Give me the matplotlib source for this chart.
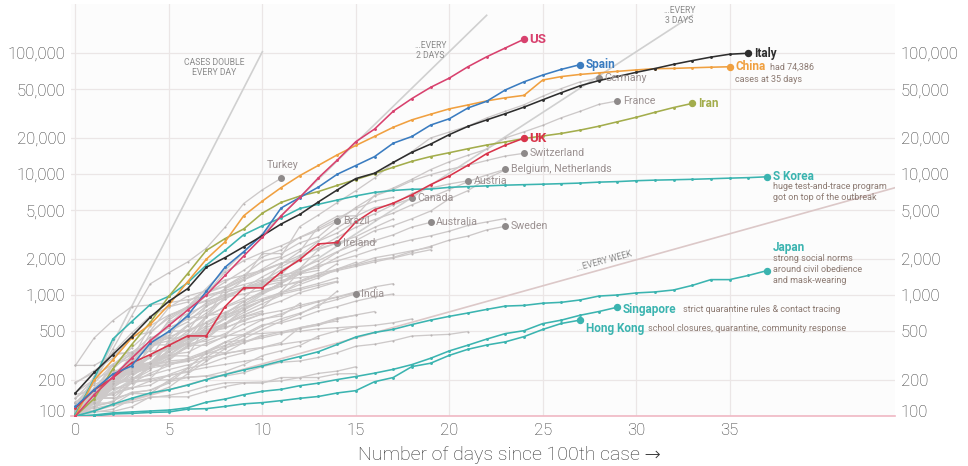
import matplotlib
matplotlib.use("Agg")
import matplotlib.pyplot as plt
from matplotlib.ticker import FixedLocator, FuncFormatter
from matplotlib.transforms import ScaledTranslation

# ---------------- data (cases, index = days since 100th case) ----------------
us = [100, 150, 210, 300, 420, 560, 750, 1000, 1450, 2100, 3000, 4500, 6400, 9300, 13000,
      18500, 23500, 33000, 42000, 52000, 62000, 77000, 93000, 110000, 130000]
spain = [120, 165, 222, 259, 400, 500, 673, 1073, 1695, 2277, 3146, 5232, 6391, 7798, 9942,
         11748, 13910, 17963, 20410, 25374, 28603, 35136, 39885, 49515, 57786, 65719, 73235, 80110]
italy = [155, 229, 322, 453, 655, 888, 1128, 1694, 2036, 2502, 3089, 3858, 4636, 5883, 7375,
         9172, 10149, 12462, 15113, 17660, 21157, 24747, 27980, 31506, 35713, 41035, 47021,
         53578, 59138, 63927, 69176, 74386, 80589, 86498, 92472, 97689, 99500]
china = [100, 198, 291, 440, 571, 830, 1287, 1975, 2744, 4515, 5974, 7711, 9692, 11791, 14380,
         17205, 20438, 24324, 28018, 31161, 34546, 37198, 40171, 42638, 44653, 59804, 63851,
         66492, 68500, 70548, 72436, 74185, 74576, 75465, 76288, 76936]
iran = [100, 139, 245, 388, 593, 978, 1501, 2336, 2922, 3513, 4747, 5823, 6566, 7161, 8042,
        9000, 10075, 11364, 12729, 13938, 14991, 16169, 17361, 18407, 19644, 20610, 21638,
        23049, 24811, 27017, 29406, 32332, 35408, 38309]
uk = [116, 164, 207, 274, 322, 384, 459, 459, 802, 1144, 1145, 1551, 1960, 2642, 2716, 4014,
      5067, 5745, 6726, 8164, 9640, 11812, 14745, 17312, 19780]
s_korea = [104, 204, 433, 602, 833, 977, 1261, 1766, 2337, 3150, 3736, 4335, 5186, 5621, 6088,
           6593, 7041, 7314, 7478, 7513, 7755, 7869, 7979, 8086, 8162, 8236, 8320, 8413, 8565,
           8652, 8799, 8897, 8961, 9037, 9137, 9241, 9332, 9478]
japan = [100, 110, 125, 140, 155, 165, 180, 200, 220, 240, 260, 285, 310, 340, 390, 450, 490,
         520, 570, 620, 666, 710, 760, 810, 820, 855, 870, 910, 980, 1000, 1040, 1060, 1100,
         1200, 1340, 1340, 1450, 1590]
singapore = [100, 102, 106, 108, 110, 112, 117, 130, 138, 150, 160, 166, 178, 187, 200, 212,
             226, 243, 266, 300, 345, 385, 432, 480, 507, 580, 620, 680, 730, 793]
hong_kong = [100, 100, 104, 105, 107, 108, 114, 115, 120, 126, 129, 134, 140, 145, 155, 162,
             192, 208, 256, 273, 317, 356, 386, 410, 453, 519, 582, 620]

germany = [130, 159, 196, 262, 482, 670, 799, 1040, 1176, 1457, 1908, 2078, 3675, 4585, 5795,
           7272, 9257, 12327, 15320, 19848, 22213, 24873, 29056, 32986, 37323, 43938, 50871,
           57695, 62095]
france = [100, 120, 130, 191, 204, 288, 380, 656, 957, 1134, 1217, 1792, 2289, 3672, 4480,
          4513, 6650, 7652, 9043, 10871, 12612, 14282, 16018, 19856, 22304, 25233, 29155,
          32964, 37575, 40174]
switzerland = [114, 214, 268, 337, 374, 491, 652, 652, 1139, 1359, 2200, 2200, 2700, 3028,
               4075, 5294, 6575, 7474, 8795, 9877, 10897, 11811, 12928, 14076, 14829]
belgium = [109, 169, 200, 239, 267, 314, 314, 559, 689, 886, 1058, 1243, 1486, 1795, 2257,
           2815, 3401, 3743, 4269, 4937, 6235, 7284, 9134, 10836]
netherlands = [128, 188, 265, 321, 382, 503, 503, 804, 959, 1135, 1413, 1705, 2051, 2460,
               2994, 3631, 4204, 4749, 5560, 6412, 7431, 8647, 9819, 10930]
austria = [104, 131, 182, 246, 302, 504, 655, 860, 1018, 1332, 1646, 2013, 2388, 2814, 3582,
           4474, 5283, 5588, 6909, 7657, 8271, 8788]
canada = [108, 117, 193, 198, 252, 415, 478, 657, 800, 943, 1277, 1469, 2088, 2790, 3251,
          4042, 4682, 5576, 6280]
australia = [107, 128, 128, 200, 250, 297, 377, 452, 568, 681, 791, 1071, 1549, 1682, 2044,
             2364, 2810, 3143, 3640, 3984]
sweden = [101, 161, 203, 248, 355, 500, 599, 814, 961, 1022, 1103, 1190, 1279, 1439, 1639,
          1763, 1934, 2046, 2286, 2526, 2840, 3069, 3447, 3700]
turkey = [100, 191, 359, 670, 1236, 1529, 1872, 2433, 3629, 5698, 7402, 9217]
india = [102, 107, 114, 137, 151, 173, 223, 283, 360, 434, 519, 606, 694, 834, 918, 1024]
brazil = [151, 162, 200, 321, 372, 621, 793, 1021, 1546, 1924, 2247, 2554, 2985, 3417, 4100]
ireland = [129, 169, 223, 292, 557, 683, 785, 906, 1125, 1329, 1564, 1819, 2121, 2415, 2700]
norway = [108, 147, 176, 205, 400, 598, 702, 996, 1090, 1221, 1333, 1463, 1550, 1746, 1914,
          2118, 2385, 2621, 2863, 3084, 3369, 3755, 4015, 4284]
denmark = [262, 442, 615, 801, 827, 864, 914, 977, 1057, 1151, 1255, 1326, 1395, 1450, 1591,
           1724, 1877, 2023, 2200, 2366]
portugal = [112, 169, 245, 331, 448, 448, 785, 1020, 1280, 1600, 2060, 2362, 2995, 3544, 4268,
            5170, 5962, 6408]
israel = [100, 143, 193, 251, 255, 337, 433, 677, 705, 883, 1071, 1238, 1656, 2369, 2693,
          3035, 3619, 4247]
czechia = [116, 150, 214, 298, 396, 464, 694, 833, 995, 1120, 1236, 1394, 1654, 1925, 2279,
           2631, 2817]
malaysia = [129, 149, 149, 197, 238, 428, 566, 673, 790, 900, 1030, 1183, 1306, 1518, 1624,
            1796, 2031, 2161, 2320, 2470]
poland = [103, 119, 177, 238, 251, 355, 425, 536, 634, 749, 901, 1051, 1221, 1389, 1638, 1862]
chile = [156, 201, 238, 238, 434, 537, 632, 746, 922, 1142, 1306, 1610, 1909, 2139]
luxembourg = [140, 203, 335, 484, 670, 798, 875, 1099, 1333, 1453, 1605, 1831, 1950]
ecuador = [111, 168, 260, 365, 506, 789, 981, 1082, 1173, 1403, 1595, 1823]
finland = [109, 155, 225, 244, 277, 321, 336, 400, 450, 523, 626, 700, 792, 880, 958, 1041,
           1167, 1240]
greece = [190, 228, 331, 331, 387, 418, 418, 495, 530, 624, 695, 743, 821, 892, 966, 1061, 1156]
iceland = [103, 134, 156, 171, 180, 220, 250, 330, 409, 473, 568, 588, 648, 737, 802, 890,
           963, 1020]
romania = [131, 158, 184, 260, 277, 308, 367, 433, 576, 762, 906, 1029, 1292, 1452, 1815]
pakistan = [187, 237, 301, 454, 495, 645, 803, 887, 991, 1106, 1197, 1402, 1495, 1597]
saudi_arabia = [103, 118, 171, 171, 274, 344, 392, 511, 562, 767, 900, 1012, 1104, 1203, 1299]
thailand = [114, 147, 177, 212, 272, 322, 411, 599, 721, 827, 934, 1045, 1136, 1245, 1388]
indonesia = [117, 134, 172, 227, 311, 369, 450, 514, 579, 686, 790, 893, 1046, 1155, 1285]
philippines = [111, 140, 142, 187, 202, 217, 230, 307, 380, 462, 552, 636, 707, 803, 1075]
qatar = [262, 262, 320, 337, 401, 439, 442, 452, 460, 470, 481, 494, 501, 526, 537, 549, 562,
         590, 634]
slovenia = [141, 181, 219, 253, 275, 275, 286, 341, 383, 414, 442, 480, 528, 562, 632, 684, 730]
estonia = [115, 171, 205, 225, 258, 267, 283, 306, 326, 352, 369, 404, 538, 575, 645, 679]
russia = [114, 147, 199, 253, 306, 367, 438, 495, 658, 840, 1036, 1264, 1534]
south_africa = [116, 150, 202, 240, 274, 402, 554, 709, 927, 1170, 1187, 1280]
mexico = [118, 164, 203, 251, 316, 367, 405, 475, 585, 717, 848, 993]
peru = [117, 145, 234, 234, 318, 363, 395, 416, 480, 580, 635, 671, 852]
panama = [109, 137, 200, 313, 345, 345, 443, 558, 674, 786, 901]
argentina = [128, 158, 266, 301, 387, 387, 502, 589, 690, 745]
egypt = [110, 150, 196, 196, 256, 285, 294, 327, 366, 402, 456, 495, 536, 576, 609]
uae = [113, 140, 140, 153, 153, 198, 248, 333, 333, 405, 468]
iraq = [110, 116, 124, 154, 164, 192, 208, 214, 233, 266, 316, 346, 382, 458, 506, 547]
lebanon = [110, 120, 133, 157, 163, 187, 248, 267, 304, 333, 368, 391, 412, 438]
croatia = [105, 128, 206, 254, 315, 382, 442, 495, 586, 657, 713]
serbia = [103, 135, 171, 222, 249, 303, 384, 384, 457, 659, 741]
colombia = [102, 128, 196, 231, 277, 378, 470, 491, 539, 608, 702]
kuwait = [104, 112, 123, 130, 142, 148, 159, 176, 188, 189, 191, 195, 208, 225, 235, 255]
bahrain = [109, 110, 189, 195, 195, 200, 210, 214, 214, 228, 256, 278, 285, 305, 334, 377,
           392, 419, 458, 466, 473, 499]
san_marino = [101, 109, 109, 119, 144, 144, 144, 160, 175, 187, 187, 208, 208, 208, 223, 224]
armenia = [115, 160, 194, 235, 249, 265, 290, 329, 407, 424]
hungary = [103, 131, 167, 187, 226, 261, 300, 343, 408]
bulgaria = [127, 163, 187, 201, 218, 242, 264, 293, 331, 346]
new_zealand = [102, 155, 205, 283, 368, 451, 514, 589]
morocco = [115, 143, 170, 225, 275, 345, 402, 479, 556]
taiwan = [108, 135, 153, 169, 195, 215, 235, 252, 267, 283, 298]

grey_series = [germany, france, switzerland, belgium, netherlands, austria, canada, australia,
               sweden, turkey, india, brazil, ireland, norway, denmark, portugal, israel,
               czechia, malaysia, poland, chile, luxembourg, ecuador, finland, greece, iceland,
               romania, pakistan, saudi_arabia, thailand, indonesia, philippines, qatar,
               slovenia, estonia, russia, south_africa, mexico, peru, panama, argentina, egypt,
               uae, iraq, lebanon, croatia, serbia, colombia, kuwait, bahrain, san_marino,
               armenia, hungary, bulgaria, new_zealand, morocco, taiwan]

# labelled grey lines: (series, label text)
grey_labels = [(germany, "Germany"), (france, "France"), (switzerland, "Switzerland"),
               (netherlands, "Belgium, Netherlands"), (austria, "Austria"), (canada, "Canada"),
               (australia, "Australia"), (sweden, "Sweden"), (india, "India"),
               (brazil, "Brazil"), (ireland, "Ireland")]

# reference doubling lines: ([start day, end day], [start cases, end cases])
double_day = ([0, 10], [100, 102400])
double_2days = ([0, 22], [100, 204800])
double_3days = ([0, 33], [100, 204800])
double_week = ([0, 43.85], [100, 7700])

y_ticks = [100, 200, 500, 1000, 2000, 5000, 10000, 20000, 50000, 100000]
x_ticks = [0, 5, 10, 15, 20, 25, 30, 35]

# ---------------- style ----------------
C_US = "#d8416e"
C_SPAIN = "#3a7cc0"
C_ITALY = "#2e2e2e"
C_CHINA = "#f0a040"
C_IRAN = "#a3ad4c"
C_UK = "#d8344a"
C_TEAL = "#3bb4b0"
C_GREY = "#cdc9c9"
C_GREY_LAB = "#9a9090"
C_NOTE = "#8c7a72"
C_REF = "#d0d0d0"

plt.rcParams['font.family'] = ['Roboto', 'DejaVu Sans']

W, H = 968, 466
fig = plt.figure(figsize=(W / 100, H / 100), dpi=100)
fig.patch.set_facecolor("white")
ax = fig.add_axes([71 / W, (H - 416) / H, (895 - 71) / W, (416 - 4) / H])
ax.set_facecolor("#fcfcfc")
ax.set_yscale("log")
ax.set_xlim(-0.24, 43.85)
ax.set_ylim(100, 254000)

ax.yaxis.set_major_locator(FixedLocator(y_ticks))
ax.yaxis.set_minor_locator(FixedLocator([]))
ax.yaxis.set_major_formatter(FuncFormatter(lambda v, p: f"{int(v):,}"))
ax.xaxis.set_major_locator(FixedLocator(x_ticks))
ax.tick_params(axis="both", length=0, labelsize=12, colors="#333333")
ax.tick_params(axis="y", labelright=True, pad=4)
ax.tick_params(axis="x", pad=5)
for lab_ in ax.get_yticklabels() + ax.get_xticklabels():
    lab_.set_fontweight("light")
# lift the bottom "100" labels a little, as in the original
t0 = ax.yaxis.get_major_ticks()[0]
for t in (t0.label1, t0.label2):
    t.set_transform(t.get_transform() + ScaledTranslation(0, 5 / 100, fig.dpi_scale_trans))
ax.grid(True, which="major", color="#ebe6e6", lw=0.9)
ax.set_axisbelow(True)
for s in ["top", "left", "right"]:
    ax.spines[s].set_visible(False)
ax.spines["bottom"].set_color("#f0b8c4")
ax.spines["bottom"].set_linewidth(1.2)

ax.set_xlabel("Number of days since 100th case \u2192", fontsize=14, fontweight="light",
              color="#333333")
ax.xaxis.set_label_coords((509 - 71) / 824, (416 - 446) / 412)

# reference lines
for xs, ys in [double_day, double_2days, double_3days]:
    ax.plot(xs, ys, color=C_REF, lw=1.2, zorder=1.5)
ax.plot(double_week[0], double_week[1], color="#dcc8c8", lw=1.2, zorder=1.5)

ref_kw = dict(fontsize=6.2, color="#8a8a8a", zorder=6, ha="center", va="center",
              linespacing=1.1)
ax.text(7.4, 76000, "CASES DOUBLE\nEVERY DAY", **ref_kw)
ax.text(19.0, 105000, "...EVERY\n2 DAYS", **ref_kw)
ax.text(32.3, 205000, "...EVERY\n3 DAYS", **ref_kw)
ax.text(28.3, 1900, "...EVERY WEEK", rotation=15, **{k: v for k, v in ref_kw.items()
                                                      if k != "linespacing"})

# grey lines
for s in grey_series:
    ax.plot(range(len(s)), s, color=C_GREY, lw=0.95, marker="o", ms=1.5, mfc="#b9b4b4",
            mec="none", zorder=2)

for s, name in grey_labels:
    d = len(s) - 1
    ax.plot([d], [s[-1]], marker="o", ms=4, color="#8e8a8a", zorder=4)
    ax.annotate(name, (d, s[-1]), xytext=(4, 0), textcoords="offset points",
                fontsize=7.7, color=C_GREY_LAB, va="center", ha="left", zorder=6)
ax.plot([len(turkey) - 1], [turkey[-1]], marker="o", ms=4, color="#8e8a8a", zorder=4)
ax.annotate("Turkey", (len(turkey) - 1, turkey[-1]), xytext=(-10, 6),
            textcoords="offset points", fontsize=7.7, color=C_GREY_LAB, va="bottom",
            ha="left", zorder=6)

# highlighted lines
def hl(series, color, zo=5):
    d = range(len(series))
    ax.plot(d, series, color=color, lw=1.15, marker="o", ms=2.1, mfc=color, mec="none",
            zorder=zo)
    ax.plot([len(series) - 1], [series[-1]], marker="o", ms=4.3, color=color, zorder=zo + 0.1)

for s, c in [(japan, C_TEAL), (singapore, C_TEAL), (hong_kong, C_TEAL), (s_korea, C_TEAL),
             (iran, C_IRAN), (china, C_CHINA), (uk, C_UK), (spain, C_SPAIN),
             (italy, C_ITALY), (us, C_US)]:
    hl(s, c)

def lab(series, text, color, dx=4, dy=0, size=8.5, bold=True):
    d = len(series) - 1
    ax.annotate(text, (d, series[-1]), xytext=(dx, dy), textcoords="offset points",
                fontsize=size, color=color, va="center", ha="left",
                fontweight="bold" if bold else "normal", zorder=7)

lab(us, "US", C_US, size=9.5)
lab(spain, "Spain", C_SPAIN)
lab(italy, "Italy", C_ITALY)
lab(iran, "Iran", C_IRAN)
lab(uk, "UK", C_UK, size=9.5)
lab(china, "China", C_CHINA)
ax.annotate("had 74,386", (len(china) - 1, china[-1]), xytext=(29, 0),
            textcoords="offset points", fontsize=6.5, color=C_NOTE, va="center", zorder=7)
ax.annotate("cases at 35 days", (len(china) - 1, china[-1]), xytext=(4, -9),
            textcoords="offset points", fontsize=6.5, color=C_NOTE, va="center", zorder=7)

lab(s_korea, "S Korea", C_TEAL)
ax.annotate("huge test-and-trace program\ngot on top of the outbreak",
            (len(s_korea) - 1, s_korea[-1]), xytext=(4, -4), textcoords="offset points",
            fontsize=6.5, color=C_NOTE, va="top", linespacing=1.25, zorder=7,
            annotation_clip=False)

lab(japan, "Japan", C_TEAL, dy=17)
ax.annotate("strong social norms\naround civil obedience\nand mask-wearing",
            (len(japan) - 1, japan[-1]), xytext=(4, 12), textcoords="offset points",
            fontsize=6.5, color=C_NOTE, va="top", linespacing=1.3, zorder=7)

lab(singapore, "Singapore", C_TEAL, dx=4, dy=-2)
ax.annotate("strict quarantine rules & contact tracing", (len(singapore) - 1, singapore[-1]),
            xytext=(47, -2), textcoords="offset points", fontsize=6.5, color=C_NOTE,
            va="center", zorder=7)
lab(hong_kong, "Hong Kong", C_TEAL, dx=4, dy=-6)
ax.annotate("school closures, quarantine, community response",
            (len(hong_kong) - 1, hong_kong[-1]), xytext=(49, -6), textcoords="offset points",
            fontsize=6.5, color=C_NOTE, va="center", zorder=7)

fig.savefig("out.png", dpi=100, facecolor="white")
